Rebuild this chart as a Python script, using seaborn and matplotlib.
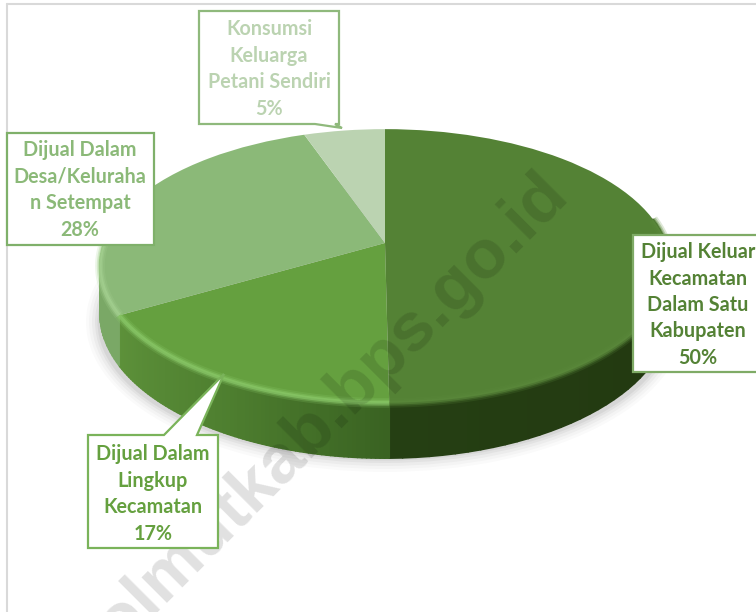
import numpy as np
import matplotlib
matplotlib.use("Agg")
import matplotlib.pyplot as plt
import matplotlib.transforms as mtransforms
from matplotlib.collections import PolyCollection
from matplotlib.patches import Ellipse
import seaborn as sns

# data, clockwise from 12 o'clock
categories = [
    "Dijual Keluar\nKecamatan\nDalam Satu\nKabupaten",
    "Dijual Dalam\nLingkup\nKecamatan",
    "Dijual Dalam\nDesa/Keluraha\nn Setempat",
    "Konsumsi\nKeluarga\nPetani Sendiri",
]
shares = [49.8, 16.9, 27.9, 5.4]
percent_labels = ["50%", "17%", "28%", "5%"]

top_colors = ["#548235", "#65a03f", "#8bb978", "#bbd3b1"]
side_stops = [
    ["#253f13", "#233a11", "#20340e"],
    ["#5d913a", "#4f8030", "#3a6322"],
    ["#6f9d5b", "#7aa866", "#7aa866"],
    ["#bbd3b1", "#bbd3b1", "#bbd3b1"],
]
rim_colors = ["#5a883b", "#8ccb6b", "#a6d292", "#c8dcc0"]

# pie geometry in image pixels
APEX_X, APEX_Y = 385, 243
A, B, K = 281, 133, 0.168
DEPTH = 46


class PieTilt(mtransforms.Transform):
    # flat unit pie -> tilted pie with perspective
    input_dims = 2
    output_dims = 2

    def transform_non_affine(self, xy):
        xy = np.asarray(xy, dtype=float)
        w = 1 + K * xy[:, 1]
        return np.column_stack([APEX_X + A * xy[:, 0] / w, APEX_Y - B * xy[:, 1] / w])


def edge_points(theta1, theta2, n=80):
    t = np.radians(np.linspace(theta1, theta2, n))
    x, y = np.cos(t), np.sin(t)
    keep = y < 0.2
    x, y = x[keep], y[keep]
    w = 1 + K * y
    return APEX_X + A * x / w, APEX_Y - B * y / w, DEPTH / w


sns.set_theme(style="white")
plt.rcParams["font.family"] = ["Lato", "DejaVu Sans"]

fig = plt.figure(figsize=(7.56, 6.12), dpi=100)
ax = fig.add_axes([0, 0, 1, 1])

wedges, _ = ax.pie(
    shares,
    colors=sns.color_palette(top_colors),
    startangle=90,
    counterclock=False,
    wedgeprops={"linewidth": 0},
)
tilt = PieTilt()
for w in wedges:
    w.set_transform(tilt + ax.transData)
    w.set_zorder(3)

ax.set_aspect("auto")
ax.set_xlim(0, 756)
ax.set_ylim(612, 0)
ax.axis("off")

# soft shadow under the pie
for grow, alpha in zip([26, 20, 14, 8, 3], [0.018, 0.025, 0.03, 0.04, 0.05]):
    ax.add_patch(Ellipse((385, 322), 572 + grow, 274 + grow, color="black", alpha=alpha, lw=0, zorder=1))

# side wall, thin strips shaded along the rim
for w, stops, rim in zip(wedges, side_stops, rim_colors):
    xs, ys, ds = edge_points(w.theta1, w.theta2)
    if len(xs) < 2:
        continue
    shades = sns.blend_palette(stops, len(xs) - 1)
    quads = [
        [(xs[i], ys[i]), (xs[i + 1], ys[i + 1]), (xs[i + 1], ys[i + 1] + ds[i + 1]), (xs[i], ys[i] + ds[i])]
        for i in range(len(xs) - 1)
    ]
    ax.add_collection(PolyCollection(quads, facecolors=shades, edgecolors=shades, linewidths=1.2, zorder=2))
    # light edge of the bevel
    for lw, alpha in [(7, 0.2), (4.5, 0.35), (2.5, 0.6)]:
        ax.plot(xs, ys, color=rim, lw=lw, alpha=alpha, zorder=3.5, solid_capstyle="butt")

# watermark
ax.text(
    535, 160, "bolmutkab.bps.go.id",
    rotation=45, rotation_mode="anchor", ha="right", va="top",
    fontsize=50, fontweight="bold", family="Liberation Sans",
    color="black", alpha=0.12, zorder=4, clip_on=True,
)

# callouts: outline with pointer, text centre
edge_colors = ["#7fab66", "#7ab35a", "#7fb06a", "#8fb97c"]
outlines = [
    [(633, 235), (760, 235), (760, 372), (633, 372)],
    [(88, 435), (164, 435), (224, 374), (197, 435), (218, 435), (218, 548), (88, 548)],
    [(7, 133), (154, 133), (154, 245), (7, 245)],
    [(199, 11), (339, 11), (339, 124), (335, 124), (342, 128), (315, 124), (199, 124)],
]
centers = [(698, 305), (153, 494), (80, 190), (269, 69)]
for label, pct, col, edge, outline, (cx, cy) in zip(
    categories, percent_labels, top_colors, edge_colors, outlines, centers
):
    ax.fill(*zip(*outline), facecolor="white", edgecolor=edge, lw=1.6, zorder=5)
    ax.text(
        cx, cy, label + "\n" + pct,
        ha="center", va="center", fontsize=14.2, fontweight="bold",
        color=col, linespacing=1.4, zorder=6,
    )

# page frame
ax.plot([6.5, 6.5], [4, 612], color="#d9d9d9", lw=1.5, zorder=0)
ax.plot([6.5, 756], [3.5, 3.5], color="#d9d9d9", lw=1.5, zorder=0)

fig.savefig("out.png", dpi=100)
